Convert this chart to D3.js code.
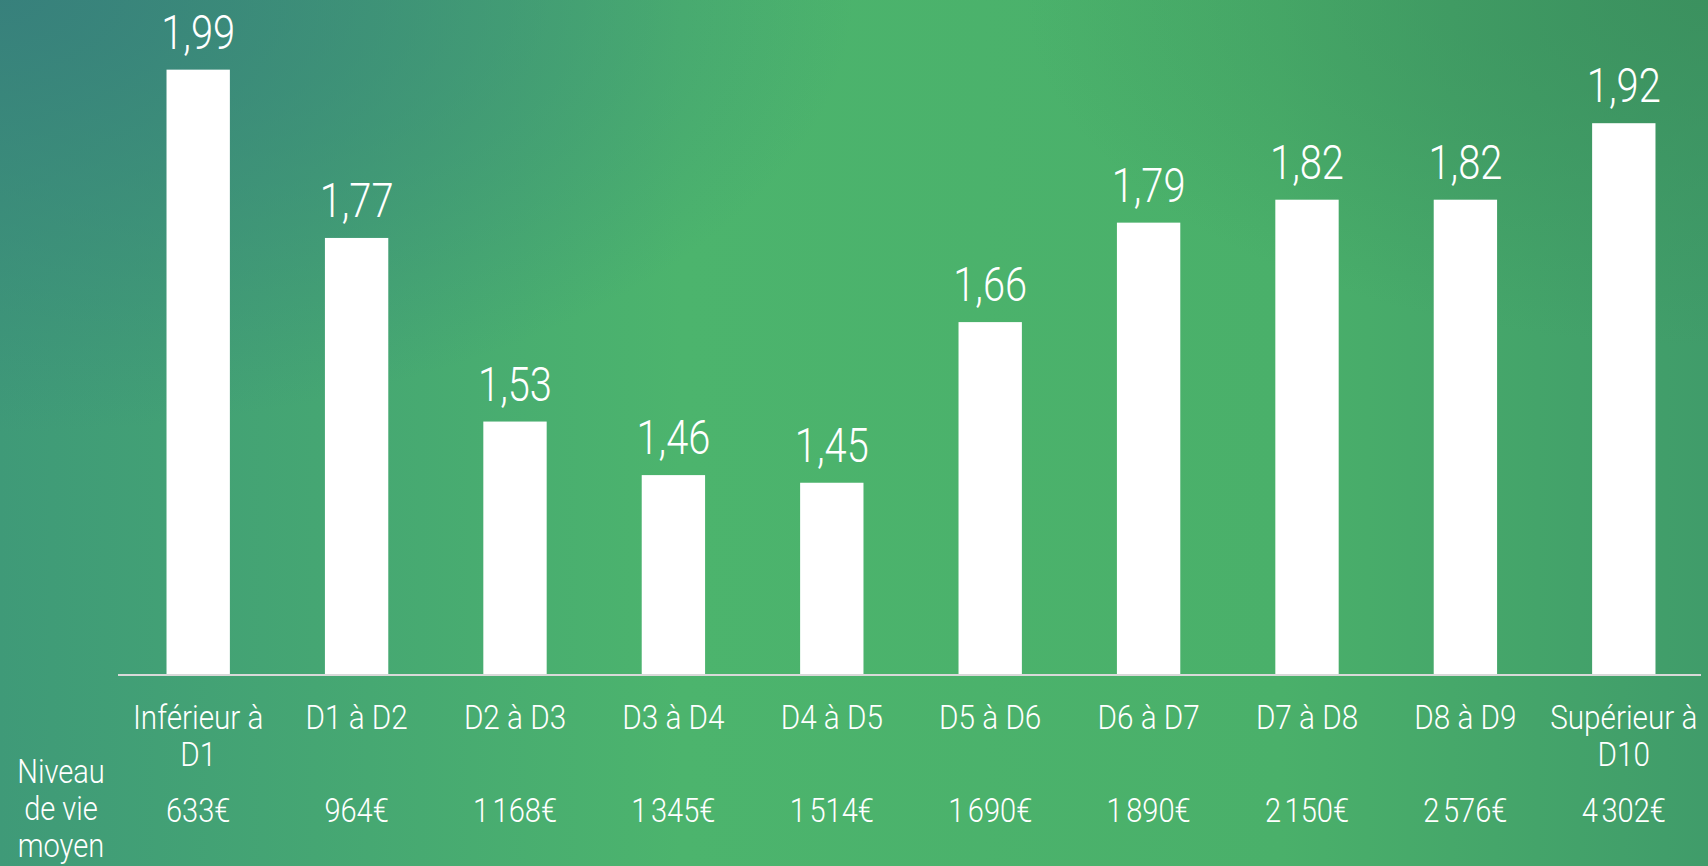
<!DOCTYPE html>
<html>
<head>
<meta charset="utf-8">
<script src="https://cdn.jsdelivr.net/npm/d3@7"></script>
<style>
  html, body { margin: 0; padding: 0; overflow: hidden; }
  text { font-family: Roboto, "Noto Sans", sans-serif; font-weight: 300; fill: #ffffff; }
</style>
</head>
<body>
<div id="chart"></div>
<script>
var widthPage = 1708;
var heightPage = 866;

var categories = [["Inférieur à", "D1"], ["D1 à D2"], ["D2 à D3"], ["D3 à D4"], ["D4 à D5"],
                  ["D5 à D6"], ["D6 à D7"], ["D7 à D8"], ["D8 à D9"], ["Supérieur à", "D10"]];
var values = [1.99, 1.77, 1.53, 1.46, 1.45, 1.66, 1.79, 1.82, 1.82, 1.92];
var niveauLabels = ["633€", "964€", "1\u202F168€", "1\u202F345€", "1\u202F514€",
                    "1\u202F690€", "1\u202F890€", "2\u202F150€", "2\u202F576€", "4\u202F302€"];
var rowTitle = ["Niveau", "de vie", "moyen"];

var svg = d3.select("#chart").append("svg").attr("width", widthPage).attr("height", heightPage);

// background gradients
var defs = svg.append("defs");
var lin = defs.append("linearGradient").attr("id", "bg").attr("x1", "0").attr("y1", "0").attr("x2", "1").attr("y2", "0");
lin.append("stop").attr("offset", "0%").attr("stop-color", "#3f9a78");
lin.append("stop").attr("offset", "40%").attr("stop-color", "#4cb46d");
lin.append("stop").attr("offset", "75%").attr("stop-color", "#4ab06a");
lin.append("stop").attr("offset", "100%").attr("stop-color", "#409c6a");
var rad = defs.append("radialGradient").attr("id", "tl").attr("cx", "0").attr("cy", "0").attr("r", "0.5");
rad.append("stop").attr("offset", "0%").attr("stop-color", "#377f7c").attr("stop-opacity", 0.95);
rad.append("stop").attr("offset", "100%").attr("stop-color", "#377f7c").attr("stop-opacity", 0);
var rad2 = defs.append("radialGradient").attr("id", "tr").attr("cx", "1").attr("cy", "0").attr("r", "0.4");
rad2.append("stop").attr("offset", "0%").attr("stop-color", "#3a8e5c").attr("stop-opacity", 0.8);
rad2.append("stop").attr("offset", "100%").attr("stop-color", "#3a8e5c").attr("stop-opacity", 0);

svg.append("rect").attr("width", widthPage).attr("height", heightPage).attr("fill", "url(#bg)");
svg.append("rect").attr("width", widthPage).attr("height", heightPage).attr("fill", "url(#tl)");
svg.append("rect").attr("width", widthPage).attr("height", heightPage).attr("fill", "url(#tr)");

var x = d3.scaleBand().domain(d3.range(values.length)).range([119, 1703]).paddingInner(0.6).paddingOuter(0.3);
var y = d3.scaleLinear().domain([1.2, 2.0]).range([674, 62]);

svg.selectAll(".bar").data(values).enter().append("rect").attr("class", "bar")
    .attr("x", (d, i) => x(i)).attr("width", x.bandwidth())
    .attr("y", d => y(d)).attr("height", d => y(1.2) - y(d))
    .attr("fill", "#ffffff");

svg.append("line").attr("x1", 118).attr("x2", 1701).attr("y1", 675).attr("y2", 675)
    .attr("stroke", "#d9d9d9").attr("stroke-width", 2);

function scaledText(sel, px, py, sx, size, str) {
    return sel.append("text")
        .attr("transform", `translate(${px},${py}) scale(${sx},1)`)
        .attr("text-anchor", "middle").attr("font-size", size).text(str);
}

var fmt = d => d.toFixed(2).replace(".", ",");
values.forEach(function(d, i) {
    scaledText(svg, x(i) + x.bandwidth() / 2, y(d) - 21, 0.83, "48px", fmt(d));
});

categories.forEach(function(lines, i) {
    lines.forEach(function(l, j) {
        scaledText(svg, x(i) + x.bandwidth() / 2, 729 + j * 37, 0.9, "33px", l);
    });
});

niveauLabels.forEach(function(l, i) {
    scaledText(svg, x(i) + x.bandwidth() / 2, 822, 0.88, "33px", l);
});

rowTitle.forEach(function(l, j) {
    scaledText(svg, 61, 783 + j * 37, 0.88, "33px", l);
});
</script>
</body>
</html>
